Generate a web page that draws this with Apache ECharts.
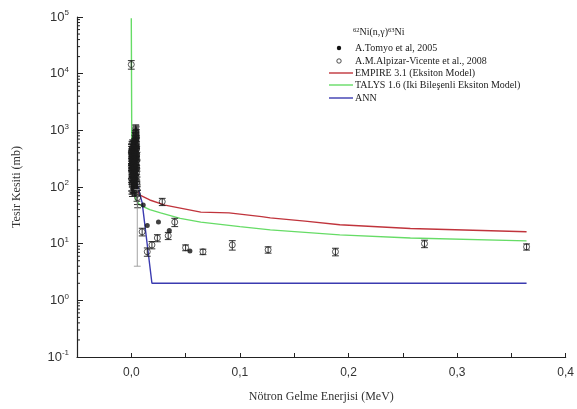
<!DOCTYPE html>
<html>
<head>
<meta charset="utf-8">
<script src="https://cdn.jsdelivr.net/npm/echarts@6/dist/echarts.min.js"></script>
<style>
  html, body { margin: 0; padding: 0; background: #fff; }
  #chart { width: 577px; height: 409px; }
</style>
</head>
<body>
<div id="chart"></div>
<script>
// 62Ni(n,γ)63Ni capture cross section vs. incident neutron energy

// EMPIRE 3.1 (exciton model): [energy MeV, cross section mb]
const empire = [
  [0.005, 90], [0.008, 72], [0.017, 59], [0.031, 48], [0.064, 36], [0.09, 35],
  [0.12, 30], [0.128, 28.5], [0.16, 25], [0.192, 21.6], [0.257, 18.5], [0.364, 16.2]
];

// TALYS 1.6 (two-component exciton model)
const talys = [
  [0.0, 95000], [0.0005, 300], [0.004, 60], [0.008, 48], [0.017, 40], [0.027, 35],
  [0.045, 28], [0.064, 24], [0.1, 20], [0.128, 17.5], [0.192, 14.3], [0.257, 12.6], [0.364, 11.2]
];

// ANN prediction
const ann = [
  [0.005, 120], [0.010, 53], [0.019, 2.0], [0.364, 2.0]
];

// A.Tomyo et al, 2005 (filled circles)
const tomyo = [
  [0.011, 48], [0.0147, 21], [0.025, 24], [0.035, 17], [0.054, 7.4]
];

// A.M.Alpizar-Vicente et al., 2008: [energy, cross section, ± error]
// resolved-resonance region below 6 keV
const alpizarLow = [
  [0.0000, 14500, 2500],
  [0.0001, 230, 90], [0.0001, 410, 150], [0.0002, 380, 140], [0.0002, 140, 55],
  [0.0003, 420, 160], [0.0003, 200, 80], [0.0004, 180, 70], [0.0004, 330, 120],
  [0.0005, 300, 110], [0.0005, 120, 45], [0.0006, 250, 95], [0.0006, 470, 170],
  [0.0007, 140, 55], [0.0007, 350, 130], [0.0008, 380, 140], [0.0008, 160, 60],
  [0.0009, 210, 80], [0.0009, 440, 160], [0.0010, 330, 120], [0.0010, 110, 42],
  [0.0011, 160, 60], [0.0011, 290, 105], [0.0012, 270, 100], [0.0012, 500, 180],
  [0.0013, 460, 170], [0.0013, 190, 72], [0.0014, 120, 45], [0.0014, 360, 130],
  [0.0015, 230, 85], [0.0015, 130, 50], [0.0016, 350, 130], [0.0016, 240, 90],
  [0.0017, 190, 72], [0.0017, 420, 150], [0.0018, 290, 108], [0.0018, 150, 58],
  [0.0019, 410, 150], [0.0019, 220, 82], [0.0020, 150, 57], [0.0020, 310, 115],
  [0.0021, 260, 97], [0.0021, 480, 175], [0.0022, 320, 118], [0.0022, 125, 48],
  [0.0023, 200, 75], [0.0023, 390, 145], [0.0024, 480, 175], [0.0024, 170, 65],
  [0.0025, 130, 50], [0.0025, 270, 100], [0.0026, 240, 90], [0.0026, 450, 165],
  [0.0027, 370, 135], [0.0027, 145, 55], [0.0028, 170, 65], [0.0028, 330, 122],
  [0.0029, 280, 104], [0.0029, 520, 190], [0.0030, 440, 160], [0.0030, 180, 68],
  [0.0031, 140, 53], [0.0031, 360, 132], [0.0032, 220, 82], [0.0032, 600, 220],
  [0.0033, 390, 143], [0.0033, 115, 44], [0.0034, 310, 114], [0.0034, 680, 240],
  [0.0035, 160, 60], [0.0035, 480, 175], [0.0036, 560, 205], [0.0036, 230, 86],
  [0.0037, 250, 93], [0.0037, 740, 260], [0.0038, 650, 235], [0.0038, 300, 110],
  [0.0039, 340, 125], [0.0039, 820, 280], [0.0040, 780, 270], [0.0040, 200, 75],
  [0.0041, 520, 190], [0.0041, 950, 300], [0.0042, 900, 300], [0.0042, 260, 97],
  [0.0043, 400, 147], [0.0043, 680, 240], [0.0044, 720, 250], [0.0044, 150, 57],
  [0.0045, 280, 104], [0.0045, 860, 290], [0.0046, 600, 215], [0.0046, 340, 125],
  [0.0047, 180, 68], [0.0047, 540, 195], [0.0048, 350, 128], [0.0048, 760, 265],
  [0.0049, 470, 170], [0.0049, 220, 82], [0.0050, 120, 45], [0.0050, 380, 140],
  [0.0051, 210, 78], [0.0052, 90, 34], [0.0053, 300, 110], [0.0054, 110, 40],
  [0.0056, 75, 26], [0.0058, 65, 22]
];
const alpizarHigh = [
  [0.010, 16.2, 2.5], [0.0147, 7.2, 1.2], [0.019, 9.5, 1.4], [0.024, 12.6, 1.8],
  [0.0285, 55, 8], [0.034, 13.8, 2], [0.040, 24, 4], [0.050, 8.5, 1.0],
  [0.066, 7.2, 0.8], [0.093, 9.5, 1.8], [0.126, 7.8, 1.0], [0.188, 7.2, 1.1],
  [0.270, 10, 1.5], [0.364, 8.8, 1.1]
];
// wide uncertainty point drawn in grey
const greyPoint = [[0.0055, 47, 43]];

// axis ticks
const xTickLabels = ['0,0', '0,1', '0,2', '0,3', '0,4'];
const yDecades = [0.1, 1, 10, 100, 1000, 10000, 100000];

// legend rows
const legendNames = [
  'A.Tomyo et al, 2005',
  'A.M.Alpizar-Vicente et al., 2008',
  'EMPIRE 3.1 (Eksiton Model)',
  'TALYS 1.6 (Iki Bileşenli Eksiton Model)',
  'ANN'
];

const colEmpire = '#c0343c', colTalys = '#66dc66', colAnn = '#3b3bb0';

const alpizarAll = alpizarLow.concat(alpizarHigh);

// log-axis minor tick positions (2..9 within each decade)
const minorTickVals = [];
yDecades.slice(0, -1).forEach(d => {
  for (let k = 2; k <= 9; k++) minorTickVals.push([-0.05, d * k]);
});

function errorBarItem(color, lw) {
  return function (params, api) {
    const x = api.value(0), y = api.value(1), e = api.value(2);
    const lo = Math.max(y - e, 0.05), hi = y + e;
    const pLo = api.coord([x, lo]);
    const pHi = api.coord([x, hi]);
    const cap = 3.4;
    const style = { stroke: color, lineWidth: lw };
    return {
      type: 'group',
      children: [
        { type: 'line', shape: { x1: pLo[0], y1: pLo[1], x2: pHi[0], y2: pHi[1] }, style },
        { type: 'line', shape: { x1: pLo[0] - cap, y1: pLo[1], x2: pLo[0] + cap, y2: pLo[1] }, style },
        { type: 'line', shape: { x1: pHi[0] - cap, y1: pHi[1], x2: pHi[0] + cap, y2: pHi[1] }, style }
      ]
    };
  };
}

const serifFont = '"Liberation Serif", "Times New Roman", serif';
const sansFont = '"Liberation Sans", Arial, sans-serif';

// key box drawn at the upper right of the plot
const legendX = 329, legendTextX = 355, legendRowY = [48, 61, 73, 85, 98];
const legendGraphics = [{
  type: 'text',
  x: 353,
  y: 27,
  style: {
    text: '{s|62}Ni(n,γ){s|63}Ni',
    font: '10px ' + serifFont,
    fill: '#222',
    rich: {
      s: { fontSize: 6.5, verticalAlign: 'top', fontFamily: serifFont, fill: '#222', padding: [0, 0, 4, 0] }
    }
  }
}];
legendNames.forEach((name, i) => {
  const y = legendRowY[i];
  if (i === 0) {
    legendGraphics.push({ type: 'circle', shape: { cx: 339, cy: y, r: 2.2 }, style: { fill: '#111' } });
  } else if (i === 1) {
    legendGraphics.push({ type: 'circle', shape: { cx: 339, cy: y, r: 2.2 }, style: { fill: '#fff', stroke: '#222', lineWidth: 0.8 } });
  } else {
    const c = [colEmpire, colTalys, colAnn][i - 2];
    legendGraphics.push({ type: 'line', shape: { x1: legendX, y1: y, x2: legendX + 24, y2: y }, style: { stroke: c, lineWidth: 1.4 } });
  }
  legendGraphics.push({
    type: 'text', x: legendTextX, y: y,
    style: { text: name, font: '10px ' + serifFont, fill: '#222', verticalAlign: 'middle' }
  });
});

const chart = echarts.init(document.getElementById('chart'), null, { renderer: 'canvas' });

chart.setOption({
  animation: false,
  backgroundColor: '#ffffff',
  grid: { left: 77, right: 11, top: 17, bottom: 52 },
  graphic: legendGraphics,
  xAxis: {
    type: 'value',
    min: -0.05,
    max: 0.4,
    interval: 0.05,
    name: 'Nötron Gelme Enerjisi (MeV)',
    nameLocation: 'middle',
    nameGap: 34,
    nameTextStyle: { fontFamily: serifFont, fontSize: 12, color: '#333' },
    axisLine: { onZero: false, lineStyle: { color: '#222', width: 1.2 } },
    axisTick: { inside: true, length: 4, lineStyle: { color: '#222' } },
    splitLine: { show: false },
    axisLabel: {
      fontFamily: sansFont,
      fontSize: 12,
      color: '#333',
      margin: 10,
      formatter: function (v) {
        const k = Math.round(v * 100);
        if (k % 10 !== 0 || k < 0) return '';
        return xTickLabels[k / 10];
      }
    }
  },
  yAxis: {
    type: 'log',
    logBase: 10,
    min: 0.1,
    max: 100000,
    name: 'Tesir Kesiti (mb)',
    nameLocation: 'middle',
    nameGap: 54,
    nameTextStyle: { fontFamily: serifFont, fontSize: 12, color: '#333' },
    axisLine: { onZero: false, lineStyle: { color: '#222', width: 1.2 } },
    axisTick: { inside: true, length: 6, lineStyle: { color: '#222' } },
    splitLine: { show: false },
    axisLabel: {
      fontFamily: sansFont,
      fontSize: 13,
      color: '#333',
      margin: 8,
      formatter: function (v) {
        const e = Math.round(Math.log10(v));
        return '10{s|' + e + '}';
      },
      rich: {
        s: { fontSize: 8, verticalAlign: 'top', fontFamily: sansFont, color: '#333', padding: [0, 0, 8, 0] }
      }
    }
  },
  series: [
    {
      name: 'minorTicks',
      type: 'custom',
      silent: true,
      clip: false,
      data: minorTickVals,
      renderItem: function (params, api) {
        const p = api.coord([api.value(0), api.value(1)]);
        return { type: 'line', shape: { x1: p[0], y1: p[1], x2: p[0] + 3, y2: p[1] }, style: { stroke: '#222', lineWidth: 1 } };
      },
      z: 1
    },
    {
      name: 'EMPIRE 3.1 (Eksiton Model)',
      type: 'line',
      data: empire,
      symbol: 'none',
      lineStyle: { width: 1.4, color: colEmpire },
      z: 3
    },
    {
      name: 'TALYS 1.6 (Iki Bileşenli Eksiton Model)',
      type: 'line',
      data: talys,
      symbol: 'none',
      lineStyle: { width: 1.4, color: colTalys },
      z: 3
    },
    {
      name: 'ANN',
      type: 'line',
      data: ann,
      symbol: 'none',
      lineStyle: { width: 1.4, color: colAnn },
      z: 3
    },
    {
      name: 'alpizarErr',
      type: 'custom',
      silent: true,
      data: alpizarAll,
      renderItem: errorBarItem('#1a1a1a', 0.9),
      z: 4
    },
    {
      name: 'greyErr',
      type: 'custom',
      silent: true,
      data: greyPoint,
      renderItem: errorBarItem('#999', 0.9),
      z: 4
    },
    {
      name: 'A.M.Alpizar-Vicente et al., 2008',
      type: 'scatter',
      data: alpizarAll.map(d => [d[0], d[1]]),
      symbol: 'circle',
      symbolSize: 6,
      itemStyle: { color: 'rgba(255,255,255,0)', borderColor: '#1a1a1a', borderWidth: 0.9 },
      z: 5
    },
    {
      name: 'A.Tomyo et al, 2005',
      type: 'scatter',
      data: tomyo,
      symbol: 'circle',
      symbolSize: 5,
      itemStyle: { color: '#111' },
      z: 6
    }
  ]
});
</script>
</body>
</html>
